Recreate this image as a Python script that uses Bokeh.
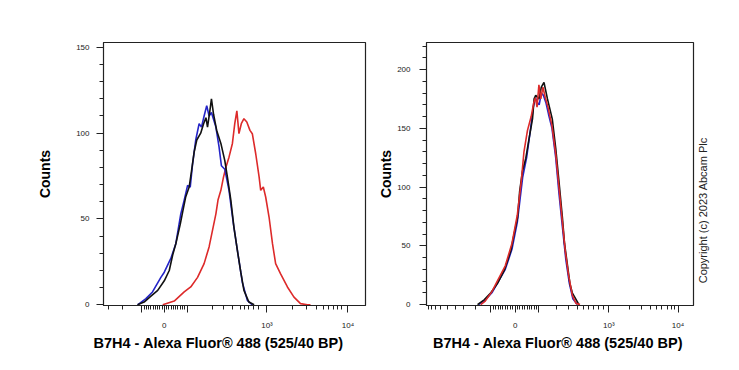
import math
from bokeh.plotting import figure
from bokeh.models import FixedTicker, Range1d, Title
from bokeh.core.properties import value
from bokeh.layouts import row
from bokeh.embed import file_html
from bokeh.resources import INLINE

FONT = "Liberation Sans"
XLABEL = "B7H4 - Alexa Fluor\u00ae 488  (525/40 BP)"
YLABEL = "Counts"
COPYRIGHT = "Copyright (c) 2023 Abcam Plc"

# ---------------- data (x in display channels 0..1000 across each axis) ----------------
# Left panel
left_black_x = [130,155,181,207,232,251,264,276,293,302,314,327,336,346,356,371,382,391,397,406,
                412,420,432,448,463,473,486,498,511,524,536,555,575]
left_black_y = [0,1.6,5,8.4,14,20,29,35.6,47,54,63,68.6,78,89,96,100,105.5,109,103.5,113,
                120,111,101.6,94,84,74.4,61,45,31.7,19,8.4,1.6,0]
left_blue_x = [130,162,187,219,232,257,276,295,308,321,331,340,352,365,374,384,394,403,412,429,
               441,450,463,479,496,511,530,549,568]
left_blue_y = [0,3.6,7.5,16,19,27,35.6,53,61,69.6,68.6,82,96,105.5,103.5,110,116,110,112,103.5,
               92,81,79,66.7,47,31.7,13,2.6,0]
left_red_x = [226,270,308,333,359,384,403,416,429,437,448,458,467,479,492,501,509,517,526,536,
              547,559,568,581,594,600,610,619,632,645,657,676,702,727,752,778,790]
left_red_y = [0,2.2,7.5,10.4,16,24,33.7,43.4,53,61,66.7,74.4,80,86,94,105.5,113,99.7,105.5,108.4,
              106.5,101.6,99.7,88,74.4,66.7,68.6,62.8,51,35.6,24,18,10.4,4.5,0.7,0,0]

# Right panel
right_black_x = [191,216,241,266,291,316,328,341,349,359,372,384,397,403,409,421,430,440,453,471,
                 484,496,509,517,527,537,546,571]
right_black_y = [0,4,10,18,29,46,60,74,96.6,113,124.6,141,158,175,178,175,185,189,175,158,
                 133,105,74,52,35,18,10,0]
right_blue_x = [195,220,245,270,295,320,340,360,375,390,400,408,415,422,430,438,447,457,470,484,
                496,509,522,535,548,565]
right_blue_y = [0,4,10,20,30,47,70,108,125,150,168,176,172,170,180,178,172,162,150,125,
                95,66,38,18,5,0]
right_red_x = [203,220,245,270,295,320,340,355,365,378,392,402,408,414,421,428,436,445,455,470,
               484,496,509,520,532,546,560,575]
right_red_y = [0,3,11,22,33,52,76,105,130,148,160,172,176,168,187,175,185,176,168,152,
               128,100,70,45,25,8,1,0]

# axis ticks (display channels): -100, 0, 100, 10^3, 10^4
left_major = [146, 232, 319, 624, 933]
left_minor_extra = [18, 73, 416, 458, 492, 521, 539, 555, 574, 590, 721, 775, 813, 841, 860, 877, 892, 907]
right_major = [241, 332, 421, 683, 942]
right_minor_extra = [7, 19, 35, 52, 77, 110, 139, 185, 487, 533, 565, 587, 608, 627, 645, 662,
                     761, 807, 838, 863, 882, 901, 917, 929]
major_labels = ["", "0", "", "10\u00b3", "10\u2074"]

left_yticks = [0, 50, 100, 150]
right_yticks = [0, 50, 100, 150, 200]

BLACK = "#111111"
BLUE = "#2424c8"
RED = "#dd2a2a"
AX = "#222222"


def dense_between(major):
    m100, z, p100 = major[0], major[1], major[2]
    out = []
    for k in range(1, 10):
        out.append(z - (z - m100) * k / 10)
        out.append(z + (p100 - z) * k / 10)
    return out


def panel(width, height, borders, yr, major, minor_extra, yticks, ymax_minor,
          ylabel_standoff, ylabel_label_standoff, series, title_align, title_offset):
    bl, br, bt, bb = borders
    p = figure(width=width, height=height, x_range=Range1d(0, 1000), y_range=Range1d(*yr),
               output_backend="svg", toolbar_location=None,
               min_border_left=bl, min_border_right=br, min_border_top=bt, min_border_bottom=bb)
    p.xgrid.visible = False
    p.ygrid.visible = False
    p.outline_line_color = AX
    p.outline_line_width = 1.2
    p.background_fill_color = "white"
    p.border_fill_color = "white"

    for xs, ys, c in series:
        p.line(xs, ys, line_color=c, line_width=1.6)

    ax = p.xaxis[0]
    ax.ticker = FixedTicker(ticks=major, minor_ticks=sorted(dense_between(major) + minor_extra))
    ax.major_label_overrides = {m: lab for m, lab in zip(major, major_labels)}
    ax.major_tick_out = 7
    ax.major_tick_in = 0
    ax.minor_tick_out = 4
    ax.minor_tick_in = 0
    ax.axis_line_color = AX
    ax.major_tick_line_color = AX
    ax.minor_tick_line_color = AX
    ax.major_label_text_font = FONT
    ax.major_label_text_font_size = "8px"
    ax.major_label_text_color = AX
    ax.major_label_standoff = 8

    ay = p.yaxis[0]
    ay.ticker = FixedTicker(ticks=yticks,
                            minor_ticks=[v for v in range(10, ymax_minor + 1, 10) if v not in yticks])
    ay.major_tick_out = 7
    ay.major_tick_in = 0
    ay.minor_tick_out = 4
    ay.minor_tick_in = 0
    ay.axis_line_color = AX
    ay.major_tick_line_color = AX
    ay.minor_tick_line_color = AX
    ay.major_label_text_font = FONT
    ay.major_label_text_font_size = "8px"
    ay.major_label_text_color = AX
    ay.major_label_standoff = ylabel_standoff
    ay.major_label_orientation = "horizontal"
    ay.axis_label = YLABEL
    ay.axis_label_text_font = FONT
    ay.axis_label_text_font_style = "bold"
    ay.axis_label_text_font_size = "14px"
    ay.axis_label_text_color = "black"
    ay.axis_label_standoff = ylabel_label_standoff

    p.add_layout(Title(text=XLABEL, align=title_align, offset=title_offset,
                       text_font=FONT, text_font_style="bold", text_font_size="14.5px",
                       text_color="black", standoff=0), "below")
    return p


p1 = panel(368, 370, (103, 3, 42, 65), (-0.4, 152.8), left_major, left_minor_extra,
           left_yticks, 150, 7, 20,
           [(left_red_x, left_red_y, RED), (left_blue_x, left_blue_y, BLUE),
            (left_black_x, left_black_y, BLACK)], "left", -10)

p2 = panel(327, 370, (58, 2, 39, 65), (-0.8, 223.0), right_major, right_minor_extra,
           right_yticks, 220, 9, 0,
           [(right_blue_x, right_blue_y, BLUE), (right_black_x, right_black_y, BLACK),
            (right_red_x, right_red_y, RED)], "center", 0)

# narrow strip at the right for the vertical copyright notice
p3 = figure(width=44, height=370, x_range=Range1d(0, 44), y_range=Range1d(0, 370),
            output_backend="svg", toolbar_location=None,
            min_border_left=0, min_border_right=0, min_border_top=0, min_border_bottom=0)
p3.axis.visible = False
p3.xgrid.visible = False
p3.ygrid.visible = False
p3.outline_line_color = None
p3.text(x=[7], y=[134], text=[COPYRIGHT], angle=math.pi / 2, text_align="center",
        text_baseline="middle", text_font=value("Liberation Sans"), text_font_size="11px",
        text_color="#222222")

layout = row(p1, p2, p3)
open("out.html", "w").write(file_html(layout, INLINE))
